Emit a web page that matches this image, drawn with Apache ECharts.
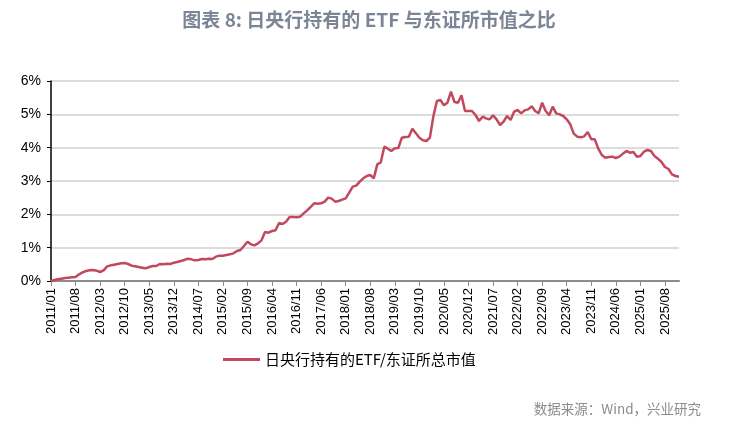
<!DOCTYPE html>
<html><head><meta charset="utf-8">
<script src="https://cdn.jsdelivr.net/npm/echarts@6/dist/echarts.min.js"></script>
<style>html,body{margin:0;padding:0;background:#fff}#c{width:738px;height:426px}</style>
</head><body><div id="c"></div>
<script>
const startYear = 2011;
const monthCount = 180;
const categories = [];
for (let i = 0; i < monthCount; i++) {
  const y = startYear + Math.floor(i / 12);
  const m = (i % 12) + 1;
  categories.push(y + '/' + (m < 10 ? '0' + m : m));
}
const seriesName = '日央行持有的ETF/东证所总市值';
const ratioValues = [
  0.00,0.03,0.05,0.07,0.09,0.10,0.11,0.12,0.20,0.26,0.30,0.32,
  0.33,0.31,0.27,0.32,0.44,0.47,0.49,0.51,0.53,0.54,0.51,0.46,
  0.44,0.42,0.40,0.38,0.42,0.45,0.45,0.51,0.50,0.52,0.51,0.55,
  0.57,0.60,0.63,0.67,0.65,0.62,0.63,0.66,0.65,0.67,0.66,0.73,
  0.76,0.76,0.78,0.80,0.83,0.90,0.93,1.05,1.18,1.10,1.07,1.13,
  1.22,1.47,1.45,1.50,1.52,1.74,1.71,1.78,1.92,1.92,1.91,1.93,
  2.03,2.12,2.22,2.33,2.32,2.33,2.38,2.50,2.47,2.38,2.40,2.44,
  2.48,2.65,2.83,2.86,2.98,3.08,3.15,3.18,3.08,3.50,3.56,4.03,
  3.97,3.90,3.98,3.99,4.30,4.32,4.33,4.57,4.43,4.30,4.22,4.20,
  4.30,4.95,5.40,5.43,5.27,5.35,5.68,5.37,5.35,5.57,5.10,5.10,
  5.10,4.98,4.80,4.93,4.88,4.85,4.97,4.85,4.68,4.78,4.95,4.83,
  5.08,5.13,5.03,5.12,5.15,5.24,5.10,5.03,5.35,5.10,4.97,5.23,
  5.03,5.00,4.95,4.85,4.70,4.42,4.33,4.31,4.34,4.47,4.25,4.25,
  3.97,3.78,3.70,3.72,3.73,3.69,3.73,3.82,3.90,3.85,3.87,3.73,
  3.75,3.88,3.93,3.90,3.75,3.67,3.57,3.42,3.36,3.20,3.15,3.13
];
const yTicks = [0, 1, 2, 3, 4, 5, 6];

const chart = echarts.init(document.getElementById('c'));
chart.setOption({
  animation: false,
  title: {
    text: '图表 8: 日央行持有的 ETF 与东证所市值之比',
    left: 'center', top: 5,
    textStyle: { fontFamily: 'Noto Sans CJK SC', fontSize: 19, fontWeight: 'bold', color: '#7b8596' }
  },
  graphic: [{
    type: 'text', right: 37, top: 402,
    style: { text: '数据来源：Wind，兴业研究', fontFamily: 'Noto Sans CJK SC', fontSize: 13.5, fill: '#8c8c8c' }
  }],
  legend: {
    data: [seriesName], left: 218, top: 347,
    itemWidth: 37, itemHeight: 3, itemGap: 6,
    icon: 'rect',
    textStyle: { fontFamily: 'Noto Sans CJK SC', fontSize: 15, color: '#000' }
  },
  grid: { left: 51, right: 59, top: 81, bottom: 145, containLabel: false },
  xAxis: {
    type: 'category', data: categories, boundaryGap: false,
    axisLine: { lineStyle: { color: '#8c8c8c', width: 2 } },
    axisTick: { interval: 6, length: 5, lineStyle: { color: '#8c8c8c' } },
    axisLabel: { interval: 6, rotate: 90, fontFamily: 'Liberation Sans', fontSize: 13, color: '#000', margin: 7 }
  },
  yAxis: {
    type: 'value', min: yTicks[0], max: yTicks[yTicks.length - 1], interval: 1,
    axisLine: { show: true, lineStyle: { color: '#000', width: 1.5 } },
    axisTick: { show: true, length: 4, lineStyle: { color: '#000' } },
    axisLabel: { formatter: '{value}%', fontFamily: 'Liberation Sans', fontSize: 14, color: '#000', margin: 10 },
    splitLine: { lineStyle: { color: '#d0d0d0', width: 1.5 } }
  },
  series: [{
    name: seriesName, type: 'line', data: ratioValues,
    symbol: 'none', smooth: false,
    lineStyle: { color: '#c2495d', width: 2.5 },
    itemStyle: { color: '#c2495d' }
  }]
});
</script></body></html>
